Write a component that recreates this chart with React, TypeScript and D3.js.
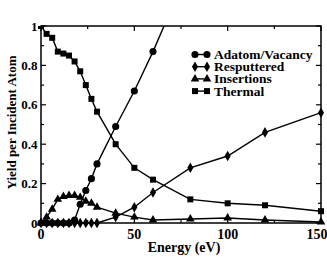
import * as d3 from "d3";
import { useEffect, useRef } from "react";

// energies (eV) sampled in the simulations
const ENERGY = [0, 3, 6, 9, 12, 15, 18, 21, 24, 27, 30, 40, 50, 60, 80, 100, 120, 150];

const ADATOM = [0, 0, 0, 0, 0, 0, 0.015, 0.095, 0.165, 0.225, 0.3, 0.49, 0.67, 0.87, 1.31];
const RESPUTTERED = [0, 0, 0, 0, 0, 0, 0, 0, 0, 0, 0, 0.03, 0.08, 0.155, 0.28, 0.34, 0.46, 0.56];
const INSERTIONS = [0, 0.03, 0.07, 0.12, 0.135, 0.14, 0.14, 0.13, 0.11, 0.1, 0.08, 0.05, 0.03, 0.015, 0.02, 0.025, 0.015, 0.005];
const THERMAL = [1.0, 0.96, 0.94, 0.87, 0.86, 0.85, 0.82, 0.77, 0.7, 0.63, 0.565, 0.4, 0.28, 0.22, 0.12, 0.1, 0.09, 0.06];

const SERIES = [
  { name: "Adatom/Vacancy", values: ADATOM, symbol: d3.symbolCircle, size: 40 },
  { name: "Resputtered", values: RESPUTTERED, symbol: d3.symbolDiamond, size: 32 },
  { name: "Insertions", values: INSERTIONS, symbol: d3.symbolTriangle, size: 32 },
  { name: "Thermal", values: THERMAL, symbol: d3.symbolSquare, size: 36 },
];

const X_TICKS = [0, 50, 100, 150];
const Y_TICKS = [0, 0.2, 0.4, 0.6, 0.8, 1];

const FONT = "'Liberation Serif', 'DejaVu Serif', serif";

export default function App() {
  const ref = useRef<SVGSVGElement | null>(null);
  useEffect(() => {
    if (!ref.current) return;
    const svg = d3.select(ref.current);
    svg.selectAll("*").remove();
    const width = 327, height = 259;
    const m = { top: 26, right: 6, bottom: 36, left: 41 };

    const x = d3.scaleLinear().domain([0, 150]).range([m.left, width - m.right]);
    const y = d3.scaleLinear().domain([0, 1]).range([height - m.bottom, m.top]);

    svg.append("clipPath").attr("id", "plot-clip")
      .append("rect")
      .attr("x", x(0) - 5).attr("y", y(1))
      .attr("width", x(150) - x(0) + 10).attr("height", y(0) - y(1) + 5);

    // frame
    svg.append("rect")
      .attr("x", x(0)).attr("y", y(1))
      .attr("width", x(150) - x(0)).attr("height", y(0) - y(1))
      .attr("fill", "none").attr("stroke", "#000").attr("stroke-width", 1.5);

    // inward ticks on all four sides
    const ticks = svg.append("g").attr("stroke", "#000").attr("stroke-width", 1.2);
    d3.range(0, 151, 25).forEach((v) => {
      const len = v % 50 === 0 ? 5 : 3;
      ticks.append("line").attr("x1", x(v)).attr("x2", x(v)).attr("y1", y(0)).attr("y2", y(0) - len);
      ticks.append("line").attr("x1", x(v)).attr("x2", x(v)).attr("y1", y(1)).attr("y2", y(1) + len);
    });
    d3.range(0, 11).forEach((i) => {
      const v = i / 10;
      const len = i % 2 === 0 ? 5 : 3;
      ticks.append("line").attr("x1", x(0)).attr("x2", x(0) + len).attr("y1", y(v)).attr("y2", y(v));
      ticks.append("line").attr("x1", x(150)).attr("x2", x(150) - len).attr("y1", y(v)).attr("y2", y(v));
    });

    const label = (sel: d3.Selection<SVGTextElement, any, any, any>) =>
      sel.attr("font-family", FONT).attr("font-weight", "bold").attr("fill", "#000");

    svg.append("g").selectAll("text").data(X_TICKS).join("text")
      .attr("x", (d) => x(d) - (d === 150 ? 4 : 0)).attr("y", y(0) + 16)
      .attr("text-anchor", "middle").attr("font-size", 14)
      .text((d) => String(d)).call(label as any);

    svg.append("g").selectAll("text").data(Y_TICKS).join("text")
      .attr("x", x(0) - 3.5).attr("y", (d) => y(d) + 4.5)
      .attr("text-anchor", "end").attr("font-size", 13)
      .text((d) => (d === 0 || d === 1 ? String(d) : d3.format(".1f")(d))).call(label as any);

    svg.append("text")
      .attr("x", (x(0) + x(150)) / 2 + 3).attr("y", height - 7)
      .attr("text-anchor", "middle").attr("font-size", 14)
      .text("Energy (eV)").call(label as any);

    svg.append("text")
      .attr("transform", `translate(16,${(y(0) + y(1)) / 2 - 2}) rotate(-90)`)
      .attr("text-anchor", "middle").attr("font-size", 13)
      .text("Yield per Incident Atom").call(label as any);

    // series
    const plot = svg.append("g").attr("clip-path", "url(#plot-clip)");
    SERIES.forEach((s) => {
      const pts = s.values.map((v, i) => [ENERGY[i], v] as [number, number]);
      const line = d3.line<[number, number]>().x((d) => x(d[0])).y((d) => y(d[1]));
      plot.append("path").attr("d", line(pts)).attr("fill", "none")
        .attr("stroke", "#000").attr("stroke-width", 1.4);
      plot.append("g").selectAll("path").data(pts).join("path")
        .attr("transform", (d) => `translate(${x(d[0])},${y(d[1])})`)
        .attr("d", d3.symbol(s.symbol, s.size)() as string)
        .attr("fill", "#000");
    });

    // legend
    const lg = svg.append("g").attr("transform", "translate(195,54.5)");
    SERIES.forEach((s, i) => {
      const row = lg.append("g").attr("transform", `translate(0,${i * 12.2})`);
      row.append("line").attr("x1", 0).attr("x2", 12).attr("stroke", "#000").attr("stroke-width", 1.4);
      [0, 12].forEach((cx) =>
        row.append("path").attr("transform", `translate(${cx},0)`)
          .attr("d", d3.symbol(s.symbol, s.size)() as string).attr("fill", "#000"));
      row.append("text").attr("x", 19).attr("y", 4.5).attr("font-size", 13.5)
        .text(s.name).call(label as any);
    });
  }, []);
  return (
    <svg ref={ref} width={327} height={259}
      style={{ position: "absolute", left: 0, top: 0, background: "#fff" }} />
  );
}
